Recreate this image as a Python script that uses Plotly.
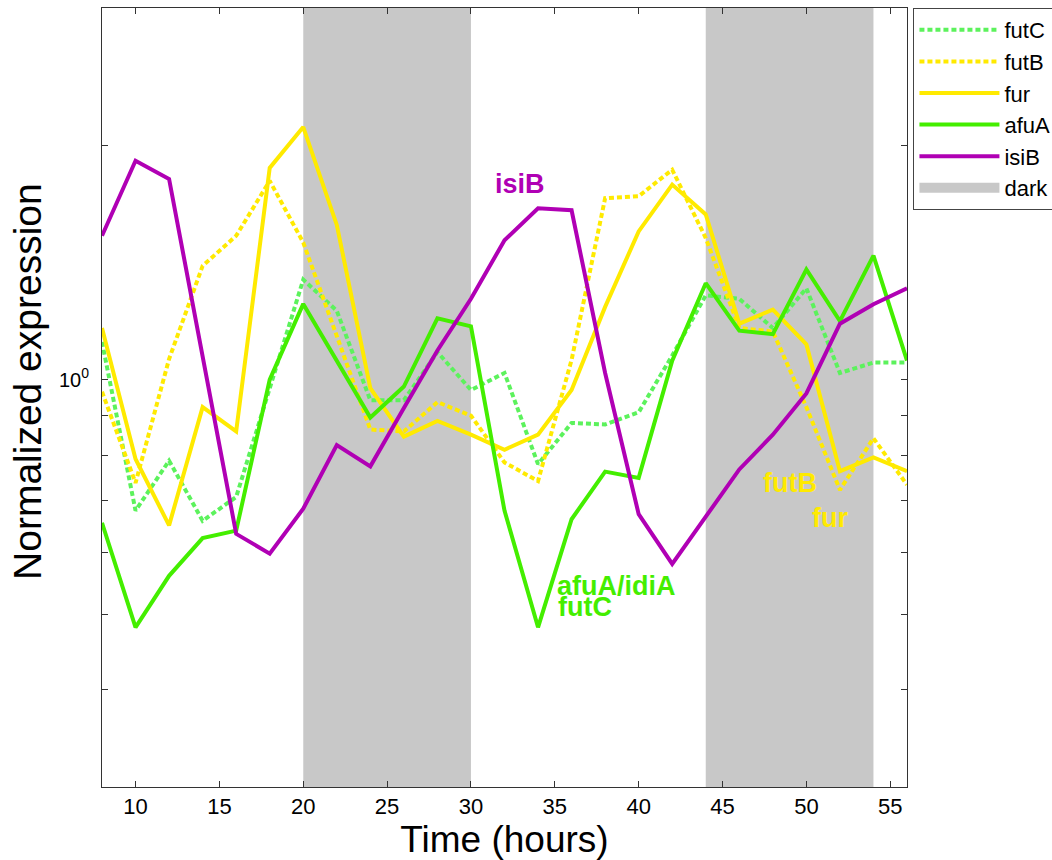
import math
import plotly.graph_objects as go

# ---- data ----
hours = [8, 10, 12, 14, 16, 18, 20, 22, 24, 26, 28, 30, 32, 34, 36, 38, 40, 42, 44, 46, 48, 50, 52, 54, 56]

futC = [1.118, 0.679, 0.787, 0.659, 0.707, 0.975, 1.344, 1.226, 0.941, 0.941, 1.085, 0.97, 1.02,
        0.779, 0.88, 0.876, 0.908, 1.074, 1.283, 1.27, 1.165, 1.31, 1.02, 1.052, 1.052]
futB = [0.965, 0.737, 1.063, 1.40, 1.53, 1.80, 1.50, 1.14, 0.863, 0.858, 0.936, 0.899, 0.783,
        0.741, 1.06, 1.71, 1.72, 1.86, 1.52, 1.165, 1.153, 0.922, 0.722, 0.841, 0.733]
fur = [1.165, 0.791, 0.650, 0.922, 0.858, 1.87, 2.11, 1.58, 0.975, 0.845, 0.885, 0.85, 0.813,
       0.85, 0.97, 1.24, 1.55, 1.78, 1.63, 1.18, 1.23, 1.11, 0.763, 0.795, 0.763]
afuA = [0.655, 0.481, 0.560, 0.626, 0.640, 1.0, 1.251, 1.058, 0.894, 0.98, 1.199, 1.171, 0.679,
        0.481, 0.662, 0.762, 0.748, 1.058, 1.33, 1.156, 1.144, 1.385, 1.189, 1.443, 1.058]
isiB = [1.53, 1.91, 1.81, 1.07, 0.634, 0.598, 0.683, 0.824, 0.774, 0.92, 1.09, 1.27, 1.51,
        1.66, 1.65, 1.02, 0.672, 0.580, 0.666, 0.767, 0.85, 0.96, 1.18, 1.25, 1.31]

dark_start = [20, 44]
dark_end = [30, 54]

x_ticks = [10, 15, 20, 25, 30, 35, 40, 45, 50, 55]
y_ticks = [0.4, 0.5, 0.6, 0.7, 0.8, 0.9, 1, 2]
y_ticklabels = ["", "", "", "", "", "", "10<sup>0</sup>", ""]
y_range = [0.3, 3.0]
x_range = [8, 56]

label_text = ["isiB", "afuA/idiA", "futC", "futB", "fur"]
label_x = [32.9, 35.0, 35.05, 47.3, 50.2]
label_y = [1.785, 0.543, 0.51, 0.737, 0.664]

# ---- styles ----
C_FUTC = "#5cf25c"
C_YEL = "#ffea00"
C_AFUA = "#44ee00"
C_ISIB = "#b000b4"
C_DARK = "#c8c8c8"
FONT = "Liberation Sans, Arial, sans-serif"
DOT = "5px,3px"

series = [
    ("futC", futC, C_FUTC, DOT),
    ("futB", futB, C_YEL, DOT),
    ("fur", fur, C_YEL, "solid"),
    ("afuA", afuA, C_AFUA, "solid"),
    ("isiB", isiB, C_ISIB, "solid"),
]
label_colors = [C_ISIB, C_AFUA, C_AFUA, C_YEL, C_YEL]
label_anchor = ["center", "left", "left", "left", "left"]

fig = go.Figure()
for name, vals, color, dash in series:
    fig.add_trace(go.Scatter(x=hours, y=vals, mode="lines", name=name,
                             line=dict(color=color, width=4, dash=dash)))

# legend entry for the dark periods (grey swatch)
fig.add_trace(go.Scatter(x=[None], y=[None], mode="lines",
                         line=dict(color=C_DARK, width=18), name="dark"))

for s, e in zip(dark_start, dark_end):
    fig.add_vrect(x0=s, x1=e, fillcolor=C_DARK, opacity=1, line_width=0, layer="below")

for t, x, y, c, a in zip(label_text, label_x, label_y, label_colors, label_anchor):
    fig.add_annotation(x=x, y=math.log10(y), yref="y", xref="x", text="<b>%s</b>" % t,
                       showarrow=False, xanchor=a, yanchor="middle",
                       font=dict(family=FONT, size=27, color=c))

# y-axis title as a rotated annotation (positioned like the reference)
fig.add_annotation(x=-0.0919, y=0.52, xref="paper", yref="paper", text="Normalized expression",
                   textangle=-90, showarrow=False, xanchor="center", yanchor="middle",
                   font=dict(family=FONT, size=39, color="black"))

fig.update_layout(
    width=1052, height=860,
    margin=dict(l=102, r=145, t=8, b=73, autoexpand=False),
    paper_bgcolor="white", plot_bgcolor="white",
    font=dict(family=FONT, color="black"),
    showlegend=True,
    legend=dict(x=1.008, y=1.0, xanchor="left", yanchor="top",
                bgcolor="white", bordercolor="#444", borderwidth=1,
                font=dict(size=22, family=FONT), itemwidth=80,
                traceorder="normal"),
)
fig.update_xaxes(range=x_range, tickvals=x_ticks, ticks="inside", ticklen=6, tickcolor="#333",
                 showline=True, linecolor="#333", linewidth=1, mirror="ticks",
                 showgrid=False, zeroline=False,
                 tickfont=dict(size=22, family=FONT),
                 title=dict(text="Time (hours)", font=dict(size=37, family=FONT), standoff=0))
fig.update_yaxes(type="log", range=[math.log10(y_range[0]), math.log10(y_range[1])],
                 tickvals=y_ticks, ticktext=y_ticklabels,
                 ticks="inside", ticklen=6, tickcolor="#333",
                 showline=True, linecolor="#333", linewidth=1, mirror="ticks",
                 showgrid=False, zeroline=False,
                 tickfont=dict(size=20, family=FONT), ticklabelstandoff=8)

fig.write_html("out.html", config={"displayModeBar": False},
               post_script="document.body.style.margin='0';")
